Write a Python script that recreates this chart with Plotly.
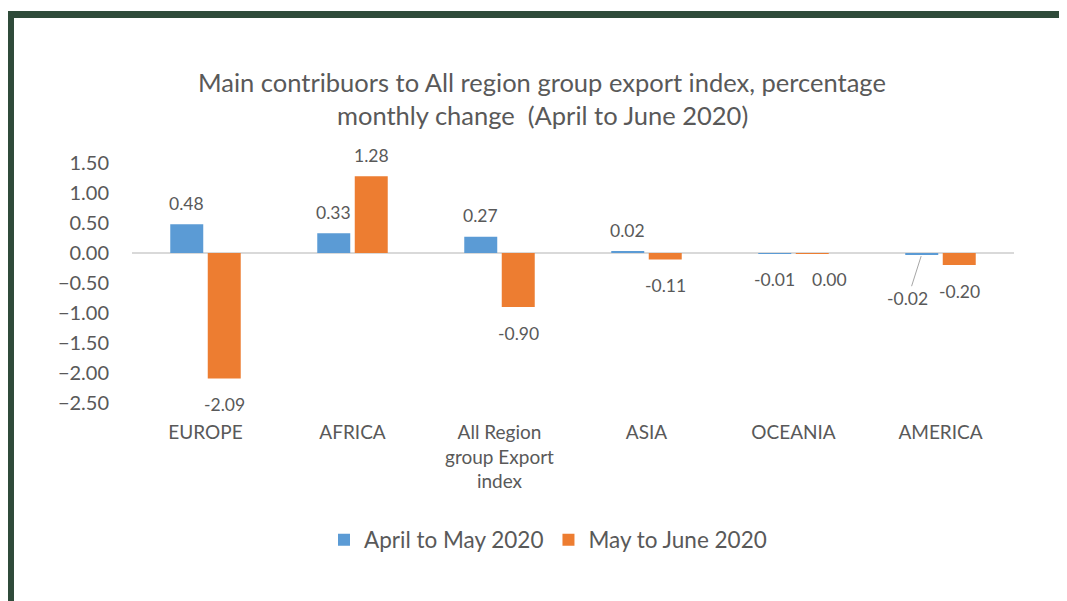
import plotly.graph_objects as go

# ---- data ----
categories = ["EUROPE", "AFRICA", "All Region<br>group Export<br>index", "ASIA", "OCEANIA", "AMERICA"]
series_names = ["April to May 2020", "May to June 2020"]
april_may = [0.48, 0.33, 0.27, 0.02, -0.01, -0.02]
may_june = [-2.09, 1.28, -0.90, -0.11, -0.004, -0.20]
y_ticks = [1.5, 1.0, 0.5, 0.0, -0.5, -1.0, -1.5, -2.0, -2.5]
title_lines = ["Main contribuors to All region group export index, percentage",
               "monthly change  (April to June 2020)"]

# ---- style ----
BLUE = "#5B9BD5"
ORANGE = "#ED7D31"
TXT = "#595959"
FONT = "Lato, 'Open Sans', sans-serif"
BORDER = "#2F4B3A"
BARGAP = 0.49
OFF = (1 - BARGAP) / 4  # bar centre offset in category units

# page offset (body margin) and figure size
D = 8
W, H = 1067 - D, 601 - D
# plot area in page pixels
L, R, T, B = 132, 1014, 163, 403

def px2paper_x(px):
    return (px - L) / (R - L)

def px2paper_y(py):
    return (B - py) / (B - T)

def fmt(v):
    s = f"{v:.2f}"
    return "0.00" if s == "-0.00" else s

fig = go.Figure()
fig.add_trace(go.Bar(name=series_names[0], x=list(range(len(categories))), y=april_may,
                     marker=dict(color=BLUE, line=dict(width=0))))
fig.add_trace(go.Bar(name=series_names[1], x=list(range(len(categories))), y=may_june,
                     marker=dict(color=ORANGE, line=dict(width=0))))

LABEL_FONT = dict(family=FONT, size=17.5, color=TXT)
nudges = {(1, 4): dict(xshift=17)}  # (series, index) -> extra pixel shifts
annotations = []
for s, vals in enumerate([april_may, may_june]):
    for i, v in enumerate(vals):
        xpos = i - OFF if s == 0 else i + OFF
        if s == 0 and i == 5:
            annotations.append(dict(x=xpos, y=v, xref="x", yref="y", text=fmt(v),
                                    showarrow=True, arrowhead=0, arrowwidth=1,
                                    arrowcolor="#A6A6A6", ax=-14, ay=44, standoff=2,
                                    font=LABEL_FONT))
            continue
        ys = 21 if v > 0 else -26
        extra = nudges.get((s, i), {})
        annotations.append(dict(x=xpos, y=v, xref="x", yref="y", text=fmt(v),
                                showarrow=False, yshift=ys, xshift=extra.get("xshift", 0),
                                font=LABEL_FONT))

for line, py in zip(title_lines, [82, 115]):
    annotations.append(dict(x=px2paper_x(542), y=px2paper_y(py), xref="paper", yref="paper",
                            text=line, showarrow=False, xanchor="center", yanchor="middle",
                            font=dict(family=FONT, size=25.5, color=TXT)))

shapes = [
    dict(type="rect", xref="paper", yref="paper", layer="above",
         x0=px2paper_x(6), x1=px2paper_x(1080), y0=px2paper_y(11), y1=px2paper_y(18),
         fillcolor=BORDER, line=dict(width=0)),
    dict(type="rect", xref="paper", yref="paper", layer="above",
         x0=px2paper_x(6), x1=px2paper_x(14), y0=px2paper_y(11), y1=px2paper_y(620),
         fillcolor=BORDER, line=dict(width=0)),
]

fig.update_layout(
    width=W, height=H,
    margin=dict(l=L - D, r=W - (R - D), t=T - D, b=H - (B - D), pad=0),
    paper_bgcolor="white", plot_bgcolor="white",
    barmode="group", bargap=BARGAP, bargroupgap=0.12,
    font=dict(family=FONT, color=TXT),
    xaxis=dict(tickmode="array", tickvals=list(range(len(categories))), ticktext=categories,
               range=[-0.5, len(categories) - 0.5], showgrid=False, showline=False,
               zeroline=False, ticks="", tickfont=dict(size=19, color=TXT),
               ticklabelstandoff=16),
    yaxis=dict(range=[-2.5, 1.5], tickvals=y_ticks, tickformat=".2f", showgrid=False,
               zeroline=True, zerolinecolor="#D9D9D9", zerolinewidth=1.5, showline=False,
               ticks="", tickfont=dict(size=20, color=TXT), ticklabelstandoff=22),
    legend=dict(orientation="h", x=px2paper_x(548), xanchor="center",
                y=px2paper_y(540), yanchor="middle", font=dict(size=22.5, color=TXT),
                itemwidth=30, traceorder="normal"),
    annotations=annotations,
    shapes=shapes,
    showlegend=True,
)

fig.write_html("out.html")
